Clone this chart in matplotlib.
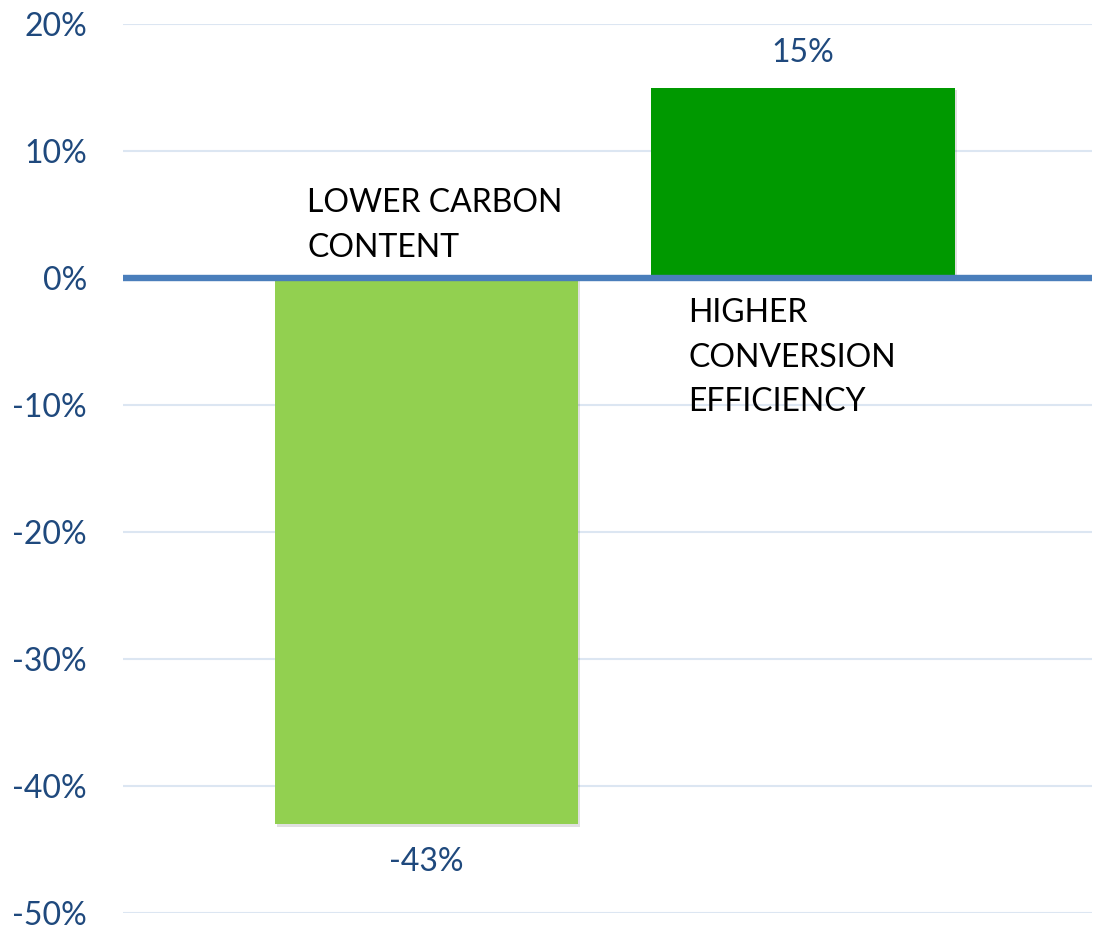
import matplotlib
matplotlib.use("Agg")
import matplotlib.pyplot as plt
import matplotlib.patheffects as pe

categories = ["LOWER CARBON\nCONTENT", "HIGHER\nCONVERSION\nEFFICIENCY"]
values = [-43, 15]
value_labels = ["-43%", "15%"]
bar_colors = ["#92D050", "#009900"]
yticks = [20, 10, 0, -10, -20, -30, -40, -50]
ytick_labels = ["20%", "10%", "0%", "-10%", "-20%", "-30%", "-40%", "-50%"]

plt.rcParams['font.family'] = ['Lato', 'DejaVu Sans']

fig = plt.figure(figsize=(10.94, 9.27), dpi=100)
ax = fig.add_axes([0.1124, 0.0151, 0.8856, 0.959])

x = list(range(len(values)))
shadow = [pe.SimplePatchShadow(offset=(1.5, -2), shadow_rgbFace='#000000', alpha=0.12), pe.Normal()]
bars = ax.bar(x, values, width=0.805, color=bar_colors, zorder=3)
for b in bars:
    b.set_path_effects(shadow)

ax.axhline(0, color='#4A7EBB', lw=4.6, zorder=4)
ax.set_xlim(-0.806, 1.767)
ax.set_ylim(-50, 20)
ax.set_yticks(yticks)
ax.set_yticklabels(ytick_labels)
ax.tick_params(axis='y', length=0, pad=26, labelsize=23, labelcolor='#1F497D')
ax.set_xticks([])
ax.grid(axis='y', color='#DCE6F2', lw=1.5, zorder=0)
for s in ax.spines.values():
    s.set_visible(False)

# value labels
ax.text(0, -46.0, value_labels[0], ha='center', va='center', fontsize=23, color='#1F497D')
ax.text(1, 17.7, value_labels[1], ha='center', va='center', fontsize=23, color='#1F497D')

# category labels
ax.text(-0.317, 7.1, categories[0], ha='left', va='top', fontsize=23, color='black', linespacing=1.62, zorder=5)
ax.text(0.695, -1.55, categories[1], ha='left', va='top', fontsize=23, color='black', linespacing=1.62, zorder=5)

fig.savefig("out.png", dpi=100)
